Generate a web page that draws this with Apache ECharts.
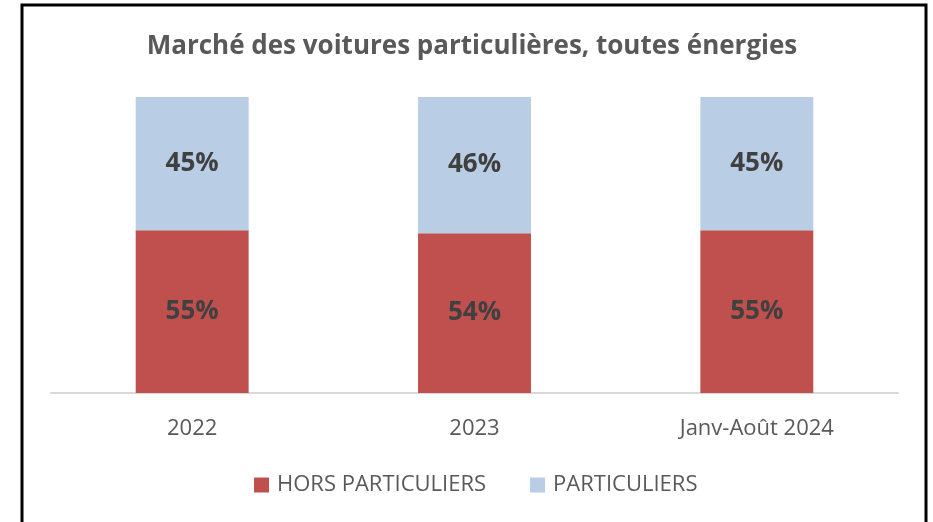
<!DOCTYPE html>
<html>
<head>
<meta charset="utf-8">
<script src="https://cdn.jsdelivr.net/npm/echarts@6/dist/echarts.min.js"></script>
<style>
  html, body { margin: 0; padding: 0; background: #fff; }
  #chart { width: 933px; height: 522px; }
</style>
</head>
<body>
<div id="chart"></div>
<script>
// données (parts en %)
const categories = ['2022', '2023', 'Janv-Août 2024'];
const horsParticuliers = [55, 54, 55];
const particuliers = [45, 46, 45];

const myChart = echarts.init(document.getElementById('chart'));

const barLabel = {
  show: true,
  position: 'inside',
  formatter: '{c}%',
  color: '#404040',
  fontFamily: 'Open Sans',
  fontWeight: 'bold',
  fontSize: 26
};

const option = {
  animation: false,
  backgroundColor: '#fff',
  title: {
    text: 'Marché des voitures particulières, toutes énergies',
    left: 467,
    textAlign: 'center',
    top: 29,
    textStyle: {
      color: '#595959',
      fontFamily: 'Open Sans',
      fontWeight: 'bold',
      fontSize: 26
    }
  },
  // cadre noir autour du graphique
  graphic: [{
    type: 'rect',
    silent: true,
    z: -1,
    shape: { x: 22, y: 5, width: 904, height: 600 },
    style: { fill: 'none', stroke: '#000', lineWidth: 3 }
  }],
  legend: {
    bottom: 26,
    left: 254,
    itemWidth: 15,
    itemHeight: 15,
    itemGap: 44,
    icon: 'rect',
    padding: 0,
    textStyle: {
      color: '#595959',
      fontFamily: 'Open Sans',
      fontSize: 22,
      padding: [0, 0, 0, 3]
    },
    data: ['HORS PARTICULIERS', 'PARTICULIERS']
  },
  grid: {
    left: 51,
    right: 35,
    top: 97,
    bottom: 129
  },
  xAxis: {
    type: 'category',
    data: categories,
    axisTick: { show: false },
    axisLine: { lineStyle: { color: '#D9D9D9', width: 2 } },
    axisLabel: {
      color: '#595959',
      fontFamily: 'Open Sans',
      fontSize: 22,
      margin: 25
    }
  },
  yAxis: {
    type: 'value',
    min: 0,
    max: 100,
    show: false,
    splitLine: { show: false }
  },
  series: [{
    name: 'HORS PARTICULIERS',
    type: 'bar',
    stack: 'total',
    barWidth: '40%',
    itemStyle: { color: '#C0504D' },
    label: barLabel,
    data: horsParticuliers
  }, {
    name: 'PARTICULIERS',
    type: 'bar',
    stack: 'total',
    barWidth: '40%',
    itemStyle: { color: '#B9CDE5' },
    label: barLabel,
    data: particuliers
  }]
};
myChart.setOption(option);
</script>
</body>
</html>
